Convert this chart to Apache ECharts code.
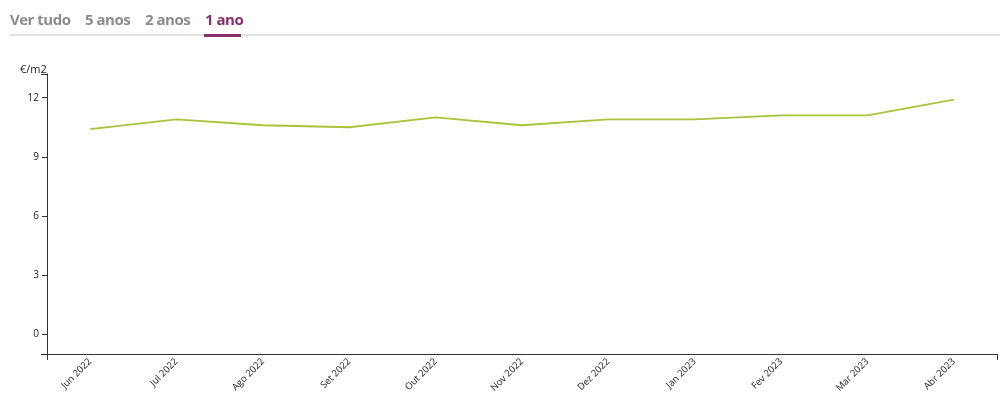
<!DOCTYPE html>
<html>
<head>
<meta charset="utf-8">
<script src="https://cdn.jsdelivr.net/npm/echarts@6/dist/echarts.min.js"></script>
<style>
  html, body { margin: 0; padding: 0; background: #fff; }
  #wrap { position: relative; width: 1000px; height: 404px; overflow: hidden; }
  #chart { position: absolute; left: 0; top: 0; width: 1000px; height: 404px; }
  #tabs { position: absolute; left: 10px; top: 0; right: 0; height: 37px; z-index: 2;
          font-family: "Open Sans", "Noto Sans", sans-serif; font-weight: 700; font-size: 15px; }
  #tabs .line { position: absolute; left: 0; right: 0; top: 34px; height: 2px; background: #e2e2e2; }
  #tabs span { position: absolute; top: 9px; color: #8c8c8c; letter-spacing: -0.5px; }
  #tabs span.active { color: #8a2d6e; }
  #tabs .ul { position: absolute; top: 34px; height: 3px; background: #8a2d6e; }
</style>
</head>
<body>
<div id="wrap">
  <div id="chart"></div>
  <div id="tabs">
    <div class="line"></div>
    <span style="left:0px">Ver tudo</span>
    <span style="left:75px">5 anos</span>
    <span style="left:135px">2 anos</span>
    <span class="active" style="left:195px">1 ano</span>
    <div class="ul" style="left:194px;width:37px"></div>
  </div>
</div>
<script>
const categories = ["Jun 2022","Jul 2022","Ago 2022","Set 2022","Out 2022","Nov 2022","Dez 2022","Jan 2023","Fev 2023","Mar 2023","Abr 2023"];
const values = [10.4, 10.9, 10.6, 10.5, 11.0, 10.6, 10.9, 10.9, 11.1, 11.1, 11.9];
const yTicks = [0, 3, 6, 9, 12];
const unitLabel = "€/m2";

const chart = echarts.init(document.getElementById('chart'), null, { renderer: 'canvas' });
const font = '"Open Sans", "Noto Sans", sans-serif';
chart.setOption({
  animation: false,
  title: {
    text: unitLabel, left: 15, top: 59,
    textStyle: { fontSize: 11, fontWeight: 'normal', color: '#222', fontFamily: font }
  },
  grid: { left: 47, right: 3, top: 74, bottom: 50 },
  xAxis: [{
    type: 'category',
    data: categories,
    boundaryGap: true,
    axisLine: { onZero: false, lineStyle: { color: '#333', width: 1 } },
    axisTick: { alignWithLabel: true, length: 5, lineStyle: { color: '#333' } },
    axisLabel: { rotate: 45, fontSize: 9.5, color: '#222', margin: 6, fontFamily: font }
  }, {
    type: 'value', position: 'bottom', min: 0, max: 1, interval: 1,
    axisLine: { show: false, onZero: false }, splitLine: { show: false },
    axisTick: { show: true, length: 6, lineStyle: { color: '#333' } },
    axisLabel: { show: false }
  }],
  yAxis: [{
    type: 'value', min: -1, max: 13.2,
    axisLine: { show: true, onZero: false, lineStyle: { color: '#333', width: 1 } },
    splitLine: { show: false },
    axisTick: { show: true, length: 5, customValues: yTicks, lineStyle: { color: '#333' } },
    axisLabel: { customValues: yTicks, fontSize: 10, color: '#222', margin: 8, fontFamily: font }
  }, {
    type: 'value', position: 'left', min: 0, max: 1, interval: 1,
    axisLine: { show: false, onZero: false }, splitLine: { show: false },
    axisTick: { show: true, length: 6, lineStyle: { color: '#333' } },
    axisLabel: { show: false }
  }],
  series: [{
    type: 'line',
    data: values,
    xAxisIndex: 0, yAxisIndex: 0,
    showSymbol: false,
    lineStyle: { color: '#a8c43a', width: 1.8 },
    itemStyle: { color: '#a8c43a' }
  }]
});
</script>
</body>
</html>
